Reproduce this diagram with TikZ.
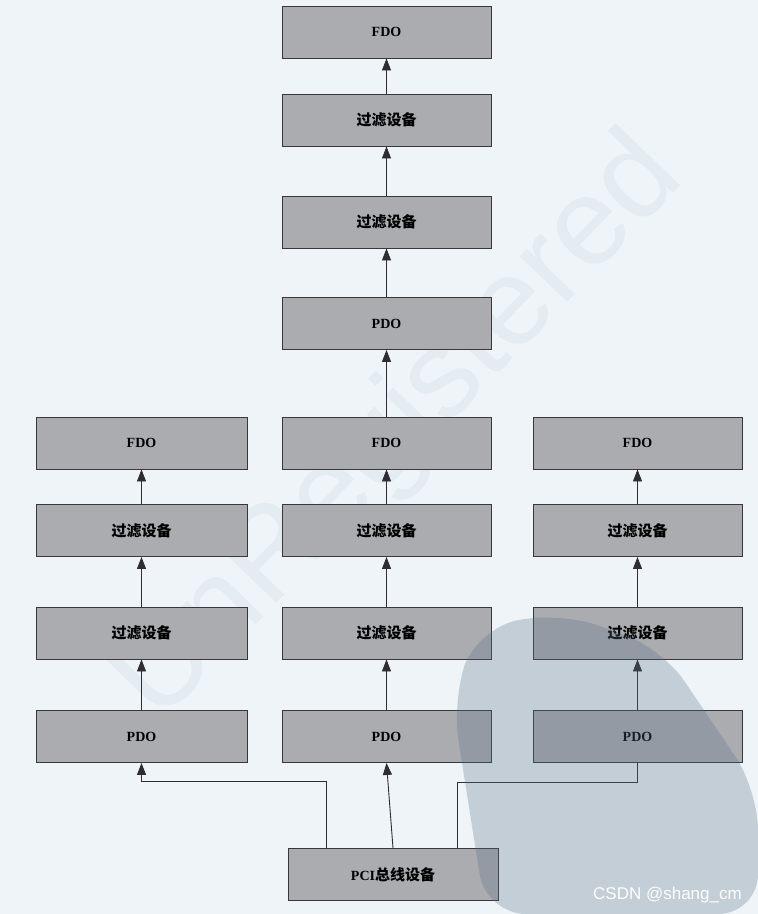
\documentclass[tikz,border=0pt]{standalone}
\usepackage{fontspec}
\setmainfont{Liberation Serif}
\newfontfamily\cjk{Noto Sans CJK SC}
\newfontfamily\wmfont{Liberation Sans}
\usetikzlibrary{arrows.meta,calc}
\definecolor{bgc}{RGB}{238,244,248}
\definecolor{boxfill}{RGB}{170,172,176}
\definecolor{boxline}{RGB}{55,55,60}
\definecolor{linec}{RGB}{45,45,50}
\definecolor{bandc}{RGB}{90,110,130}
\definecolor{wmc}{RGB}{228,235,241}
\tikzset{
  box/.style={draw=boxline, fill=boxfill, line width=0.9pt, minimum width=209pt,
    minimum height=52pt, inner sep=0pt, font=\fontsize{14}{16}\selectfont\bfseries},
  arr/.style={draw=linec, line width=0.9pt, -{Triangle[length=12pt,width=9pt]}},
  plain/.style={draw=linec, line width=0.9pt},
}
\newcommand{\lvb}{{\cjk\fontsize{15}{17}\selectfont\bfseries 过滤设备}}
\begin{document}
\begin{tikzpicture}[x=1pt,y=1pt]
\useasboundingbox (0,0) rectangle (758,-914);
\fill[bgc] (0,0) rectangle (758,-914);
% faint watermark text
\node[rotate=46, font=\wmfont\fontsize{124}{130}\selectfont, text=wmc, inner sep=0pt] (wm) at (400,-430) {UnRegistered};
% top column
\node[box] (FDOt) at (386.5,-32) {FDO};
\node[box] (Ft1) at (386.5,-120) {\lvb};
\node[box] (Ft2) at (386.5,-222) {\lvb};
\node[box] (PDOt) at (386.5,-323.5) {PDO};
% left column
\node[box, minimum width=211pt] (FDOl) at (141.5,-443) {FDO};
\node[box, minimum width=211pt] (Fla) at (141.5,-530.5) {\lvb};
\node[box, minimum width=211pt] (Flb) at (141.5,-633) {\lvb};
\node[box, minimum width=211pt] (PDOl) at (141.5,-736.5) {PDO};
% middle column
\node[box] (FDOm) at (386.5,-443) {FDO};
\node[box] (Fma) at (386.5,-530.5) {\lvb};
\node[box] (Fmb) at (386.5,-633) {\lvb};
\node[box] (PDOm) at (386.5,-736.5) {PDO};
% right column
\node[box] (FDOr) at (637.5,-443) {FDO};
\node[box] (Fra) at (637.5,-530.5) {\lvb};
\node[box] (Frb) at (637.5,-633) {\lvb};
\node[box] (PDOr) at (637.5,-736.5) {PDO};
% bus
\node[box, minimum width=210pt] (PCI) at (393,-874.5) {PCI{\cjk\fontsize{15}{17}\selectfont\bfseries 总线设备}};
% arrows top column
\draw[arr] (Ft1.north) -- (FDOt.south);
\draw[arr] (Ft2.north) -- (Ft1.south);
\draw[arr] (PDOt.north) -- (Ft2.south);
\draw[arr] (FDOm.north) -- (PDOt.south);
% columns
\foreach \c in {l,m,r}{
  \draw[arr] (F\c a.north) -- (FDO\c.south);
  \draw[arr] (F\c b.north) -- (F\c a.south);
  \draw[arr] (PDO\c.north) -- (F\c b.south);
}
% bus connectors
\draw[arr] ([xshift=-67pt]PCI.north) |- ($(PDOl.south)+(0,-18pt)$) -- (PDOl.south);
\draw[arr] (PCI.north) -- (PDOm.south);
\draw[plain] ([xshift=64pt]PCI.north) |- ($(PDOr.south)+(0,-19pt)$) -- (PDOr.south);
% stamp band
\fill[bandc, opacity=0.28, rounded corners=40pt] (452,-700) -- (478,-628) -- (560,-612) -- (662,-648) -- (758,-790) -- (758,-914) -- (486,-914) -- cycle;
% signature
\node[anchor=south east, inner sep=0pt, font=\wmfont\fontsize{17}{19}\selectfont, text=white] (sig) at (742,-903) {CSDN @shang\_cm};
\end{tikzpicture}
\end{document}
